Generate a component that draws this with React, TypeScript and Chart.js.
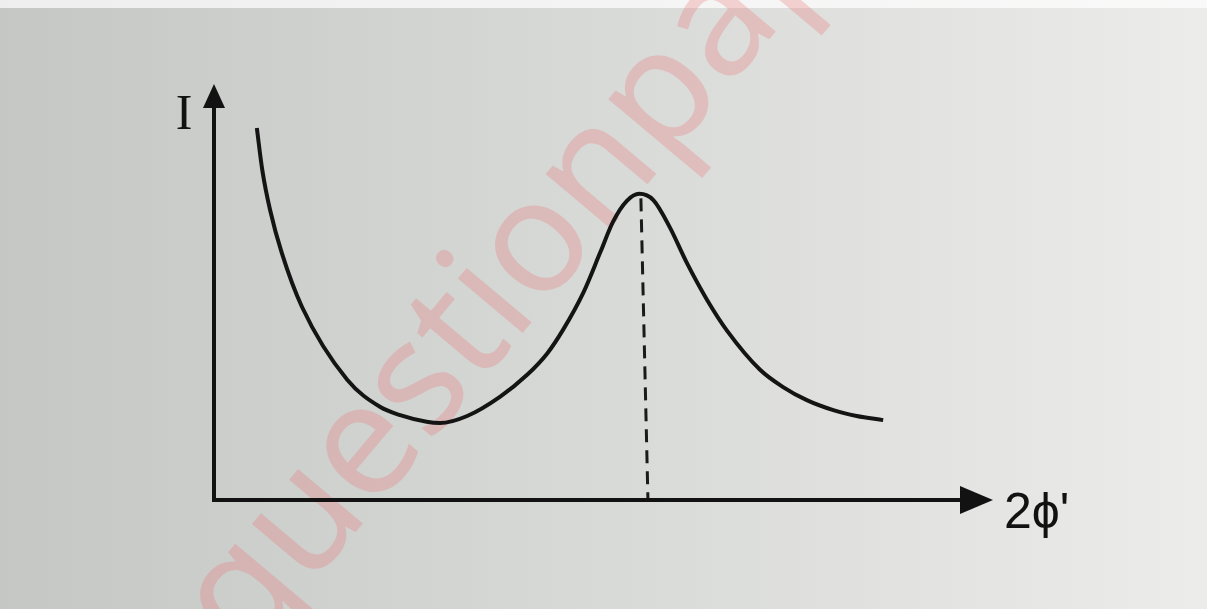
import React, { useEffect, useRef } from "react";
import { Chart, registerables } from "chart.js";

Chart.register(...registerables);

// Curve I(2ϕ') (axis units 0..100)
const curveX = [5.5, 6.2, 7.2, 8.7, 11.3, 17.1, 21.3, 23.9, 27.3, 29.0, 32.5, 36.7, 40.2, 42.8, 44.8, 47.4, 49.6, 51.2, 53.0, 54.6, 56.4, 58.5, 60.7, 63.3, 65.9, 70.1, 73.0, 76.1, 79.5, 82.5, 85.9];
const curveY = [89.4, 79.3, 69.7, 59.4, 46.4, 28.9, 22.4, 20.4, 18.8, 18.5, 20.2, 24.8, 30.1, 35.3, 40.9, 49.8, 59.6, 66.8, 71.9, 73.6, 72.1, 65.6, 57.0, 48.1, 40.6, 31.3, 27.2, 24.0, 21.6, 20.2, 19.2];
// Dashed marker from the peak down to the axis
const peakLineX = [54.8, 55.7];
const peakLineY = [72.5, 0.5];
const yAxisLabel = "I";
const xAxisLabel = "2ϕ'";
const watermark = "questionpaper";

const W = 1207;
const H = 609;

const drawPlugin = {
  id: "sketch",
  beforeDraw(chart: any) {
    const ctx = chart.ctx;
    ctx.save();
    const g = ctx.createLinearGradient(0, 0, W, 0);
    g.addColorStop(0, "#c5c7c5");
    g.addColorStop(0.45, "#d6d8d6");
    g.addColorStop(1, "#ececea");
    ctx.fillStyle = g;
    ctx.fillRect(0, 0, W, H);
    ctx.fillStyle = "rgba(255,255,255,0.7)";
    ctx.fillRect(0, 0, W, 8);
    // watermark
    ctx.font = "158px 'Noto Sans', 'DejaVu Sans', sans-serif";
    ctx.fillStyle = "rgba(232,110,110,0.28)";
    const off = ctx.measureText("qu").width + ctx.measureText("e").width / 2;
    ctx.translate(368, 452);
    ctx.rotate((-50 * Math.PI) / 180);
    ctx.textBaseline = "alphabetic";
    ctx.textAlign = "left";
    ctx.fillText(watermark, -off, 42);
    ctx.restore();
  },
  afterDatasetsDraw(chart: any) {
    const ctx = chart.ctx;
    const { left, right, top, bottom } = chart.chartArea;
    ctx.save();
    ctx.strokeStyle = "#121212";
    ctx.fillStyle = "#121212";
    ctx.lineWidth = 4;
    ctx.lineCap = "butt";
    // axes
    ctx.beginPath();
    ctx.moveTo(left, top + 20);
    ctx.lineTo(left, bottom);
    ctx.lineTo(right - 30, bottom);
    ctx.stroke();
    // y arrow
    ctx.beginPath();
    ctx.moveTo(left, top);
    ctx.lineTo(left - 11, top + 24);
    ctx.lineTo(left + 11, top + 24);
    ctx.closePath();
    ctx.fill();
    // x arrow
    ctx.beginPath();
    ctx.moveTo(right, bottom);
    ctx.lineTo(right - 33, bottom - 14);
    ctx.lineTo(right - 33, bottom + 14);
    ctx.closePath();
    ctx.fill();
    // labels
    ctx.textAlign = "center";
    ctx.textBaseline = "alphabetic";
    ctx.font = "50px 'Liberation Serif', serif";
    ctx.fillText(yAxisLabel, left - 30, top + 45);
    ctx.textAlign = "left";
    ctx.font = "50px 'Liberation Sans', 'DejaVu Sans', sans-serif";
    ctx.fillText(xAxisLabel, right + 11, bottom + 28);
    ctx.restore();
  },
};

export default function App() {
  const ref = useRef<HTMLCanvasElement>(null);
  useEffect(() => {
    document.body.style.margin = "0";
    const canvas = ref.current!;
    const chart = new Chart(canvas, {
      type: "line",
      data: {
        datasets: [
          {
            data: curveX.map((x, i) => ({ x, y: curveY[i] })),
            borderColor: "#141414",
            borderWidth: 4,
            pointRadius: 0,
            cubicInterpolationMode: "monotone",
            fill: false,
          },
          {
            data: peakLineX.map((x, i) => ({ x, y: peakLineY[i] })),
            borderColor: "#1a1a1a",
            borderWidth: 3,
            borderDash: [13, 8],
            pointRadius: 0,
            fill: false,
          },
        ],
      },
      options: {
        responsive: false,
        animation: false,
        layout: { padding: { left: 214, right: 214, top: 84, bottom: 109 } },
        plugins: { legend: { display: false }, tooltip: { enabled: false } },
        scales: {
          x: { type: "linear", min: 0, max: 100, display: false },
          y: { type: "linear", min: 0, max: 100, display: false },
        },
      },
      plugins: [drawPlugin],
    } as any);
    return () => chart.destroy();
  }, []);
  return (
    <canvas
      ref={ref}
      width={W}
      height={H}
      style={{ position: "fixed", left: 0, top: 0, width: W, height: H }}
    />
  );
}
